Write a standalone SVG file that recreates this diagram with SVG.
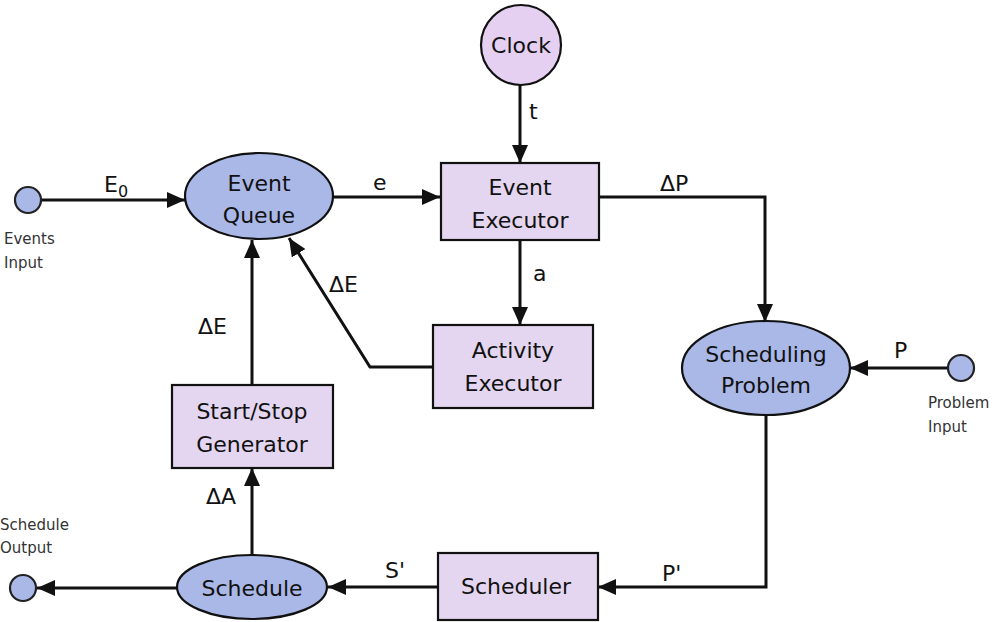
<svg xmlns="http://www.w3.org/2000/svg" width="997" height="622" viewBox="0 0 997 622">
<style>
.ell{fill:#aab8e8;stroke:#111;stroke-width:2.2}
.box{fill:#e4d6f0;stroke:#111;stroke-width:2.2}
.clk{fill:#e6d0f2;stroke:#111;stroke-width:2.2}
.port{fill:#aab8e8;stroke:#222;stroke-width:2.2}
.t{font-family:"DejaVu Sans",sans-serif;font-size:22px;fill:#111;text-anchor:middle}
.lb{font-family:"DejaVu Sans",sans-serif;font-size:22px;fill:#111}
.sm{font-family:"DejaVu Sans",sans-serif;font-size:15px;fill:#333}
.c{fill:none;stroke:#111;stroke-width:3}
</style>
<defs>
<marker id="ah" viewBox="0 0 18 16" refX="18" refY="8" markerWidth="18" markerHeight="16" markerUnits="userSpaceOnUse" orient="auto">
<path d="M0,0 L18,8 L0,16 Z" fill="#111"/>
</marker>
</defs>
<g id="connectors">
<line class="c" x1="41" y1="200" x2="185" y2="200" marker-end="url(#ah)"/>
<line class="c" x1="333" y1="197" x2="440" y2="197" marker-end="url(#ah)"/>
<line class="c" x1="520" y1="85" x2="520" y2="163" marker-end="url(#ah)"/>
<polyline class="c" points="600,197 765,197 765,322" marker-end="url(#ah)"/>
<line class="c" x1="520" y1="240" x2="520" y2="325" marker-end="url(#ah)"/>
<polyline class="c" points="433,367 370,367 289,238" marker-end="url(#ah)"/>
<line class="c" x1="948" y1="368" x2="850" y2="368" marker-end="url(#ah)"/>
<polyline class="c" points="766,415 766,587 598,587" marker-end="url(#ah)"/>
<line class="c" x1="438" y1="587" x2="328" y2="587" marker-end="url(#ah)"/>
<line class="c" x1="177" y1="588" x2="37" y2="588" marker-end="url(#ah)"/>
<line class="c" x1="252" y1="555" x2="252" y2="468" marker-end="url(#ah)"/>
<line class="c" x1="252" y1="385" x2="252" y2="240" marker-end="url(#ah)"/>
<text class="lb" x="104" y="192">E<tspan font-size="16" dy="5">0</tspan></text>
<text class="lb" x="373" y="190">e</text>
<text class="lb" x="529" y="119">t</text>
<text class="lb" x="660" y="191">ΔP</text>
<text class="lb" x="533" y="281">a</text>
<text class="lb" x="329" y="292">ΔE</text>
<text class="lb" x="198" y="334">ΔE</text>
<text class="lb" x="894" y="358">P</text>
<text class="lb" x="662" y="581">P'</text>
<text class="lb" x="385" y="578">S'</text>
<text class="lb" x="206" y="504">ΔA</text>
</g>
<g id="events-input">
<circle class="port" cx="28" cy="200" r="13"/>
<text class="sm" x="4" y="244">Events</text>
<text class="sm" x="4" y="268">Input</text>
</g>
<g id="event-queue">
<ellipse class="ell" cx="259" cy="196" rx="74" ry="43"/>
<text class="t" x="259" y="191">Event</text>
<text class="t" x="259" y="223">Queue</text>
</g>
<g id="clock">
<circle class="clk" cx="521" cy="45" r="40"/>
<text class="t" x="521" y="53">Clock</text>
</g>
<g id="event-executor">
<rect class="box" x="441" y="163" width="158" height="77"/>
<text class="t" x="520" y="195">Event</text>
<text class="t" x="520" y="228">Executor</text>
</g>
<g id="activity-executor">
<rect class="box" x="433" y="325" width="160" height="83"/>
<text class="t" x="513" y="358">Activity</text>
<text class="t" x="513" y="391">Executor</text>
</g>
<g id="start-stop-generator">
<rect class="box" x="172" y="385" width="161" height="83"/>
<text class="t" x="252" y="419">Start/Stop</text>
<text class="t" x="252" y="452">Generator</text>
</g>
<g id="scheduling-problem">
<ellipse class="ell" cx="766" cy="368" rx="84" ry="47"/>
<text class="t" x="766" y="362">Scheduling</text>
<text class="t" x="766" y="393">Problem</text>
</g>
<g id="problem-input">
<circle class="port" cx="961" cy="368" r="13"/>
<text class="sm" x="928" y="408">Problem</text>
<text class="sm" x="928" y="432">Input</text>
</g>
<g id="scheduler">
<rect class="box" x="438" y="553" width="160" height="67"/>
<text class="t" x="516" y="594">Scheduler</text>
</g>
<g id="schedule">
<ellipse class="ell" cx="252" cy="587" rx="75" ry="32"/>
<text class="t" x="252" y="596">Schedule</text>
</g>
<g id="schedule-output">
<circle class="port" cx="23" cy="588" r="13"/>
<text class="sm" x="0" y="530">Schedule</text>
<text class="sm" x="0" y="553">Output</text>
</g>
</svg>
